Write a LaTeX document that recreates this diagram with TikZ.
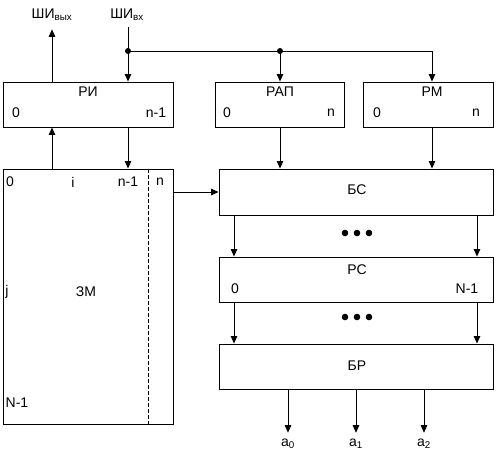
\documentclass[tikz,border=0pt]{standalone}
\usepackage{fontspec}
\setmainfont{Liberation Sans}
\usetikzlibrary{positioning,arrows.meta}

\begin{document}
\begin{tikzpicture}[x=1pt, y=-1pt, line width=0.9pt,
    blk/.style={draw, inner sep=0pt, minimum height=45pt},
    txt/.style={font=\fontsize{14}{16}\selectfont, inner sep=1pt},
    arr/.style={-{Triangle[width=6.5pt,length=7.5pt]}}]
      \useasboundingbox (0,0) rectangle (496,464);
      \coordinate (c1) at (52,0);  \coordinate (c5) at (148,0);
      \coordinate (c6) at (234,0); \coordinate (c7) at (477,0);
      \coordinate (c4) at (432,51);
      \coordinate (j1) at (128,51); \coordinate (j2) at (280,51);
      % blocks
      \node[blk, minimum width=170pt] (ri) at (88,104.5) {};
      \node[blk, minimum width=129pt] (rap) at (279.5,104.5) {};
      \node[blk, minimum width=130pt] (rm) at (428,104.5) {};
      \node[blk, minimum width=170pt, minimum height=255pt] (zm) at (88,296.5) {};
      \node[blk, minimum width=274pt, minimum height=46pt] (bs) at (356,192) {};
      \node[blk, minimum width=274pt] (rs) at (356,279.5) {};
      \node[blk, minimum width=274pt] (br) at (356,366.5) {};
      \draw[dashed, dash pattern=on 4pt off 2pt] (zm.north -| c5) -- (zm.south -| c5);
      % labels
      \node[txt] (shout) at (52,15) {ШИ\textsubscript{вых}};
      \node[txt] (shin) at (127,15) {ШИ\textsubscript{вх}};
      \node[txt] (riname) at (88,92) {РИ};
      \node[txt] (ri0) at (16,113) {0};
      \node[txt] (rin) at (156,113) {n-1};
      \node[txt] (rapname) at (280,92) {РАП};
      \node[txt] (rap0) at (227,113) {0};
      \node[txt] (rapn) at (331,113) {n};
      \node[txt] (rmname) at (432,92) {РМ};
      \node[txt] (rm0) at (377,113) {0};
      \node[txt] (rmn) at (476,113) {n};
      \node[txt] (zm0) at (10,182) {0};
      \node[txt] (zmi) at (73,182) {i};
      \node[txt] (zmn1) at (128,182) {n-1};
      \node[txt] (zmn) at (160,182) {n};
      \node[txt] (zmj) at (7,292) {j};
      \node[txt] (zmname) at (86,292) {ЗМ};
      \node[txt] (zmN) at (17,403) {N-1};
      \node[txt] (bsname) at (357,190) {БС};
      \node[txt] (rsname) at (357,270) {РС};
      \node[txt] (rs0) at (235,289) {0};
      \node[txt] (rsN) at (467,289) {N-1};
      \node[txt] (brname) at (357,366) {БР};
      \node[txt] (a0) at (288,444) {a\textsubscript{0}};
      \node[txt] (a1) at (356,444) {a\textsubscript{1}};
      \node[txt] (a2) at (424,444) {a\textsubscript{2}};
      % connectors
      \draw[arr, shorten >=7pt] (ri.north -| c1) -- (shout.south -| c1);
      \draw[arr, shorten <=5pt] (shin.south -| j1) -- (ri.north -| j1);
      \fill (j1) circle (3pt) (j2) circle (3pt);
      \draw[arr] (j1) -| (rm.north -| c4);
      \draw[arr] (j2) -- (rap.north -| j2);
      \draw[arr] (zm.north -| c1) -- (ri.south -| c1);
      \draw[arr] (ri.south -| j1) -- (zm.north -| j1);
      \draw[arr] (rap.south -| j2) -- (bs.north -| j2);
      \draw[arr] (rm.south -| c4) -- (bs.north -| c4);
      \draw[arr] (zm.east |- bs) -- (bs.west);
      \foreach \c in {c6,c7} {
        \draw[arr] (bs.south -| \c) -- (rs.north -| \c);
        \draw[arr] (rs.south -| \c) -- (br.north -| \c);
      }
      \foreach \x in {345,357,369} { \fill (\x,233) circle (3.3pt) (\x,317) circle (3.3pt); }
      \foreach \a in {a0,a1,a2} { \draw[arr, shorten >=5pt] (br.south -| \a) -- (\a.north); }
\end{tikzpicture}
\end{document}
